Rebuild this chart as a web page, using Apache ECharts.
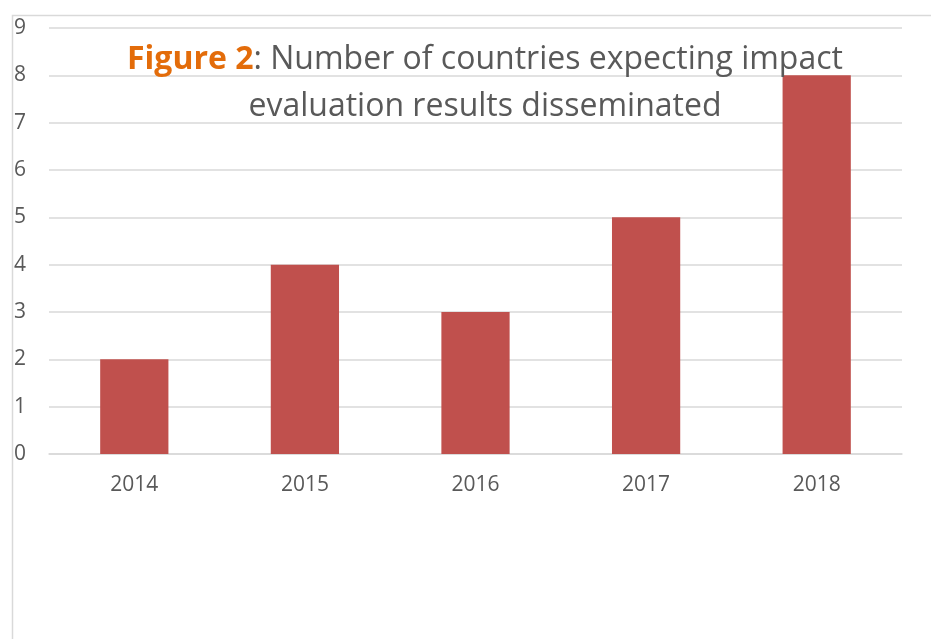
<!DOCTYPE html>
<html><head><meta charset="utf-8">
<script src="https://cdn.jsdelivr.net/npm/echarts@6/dist/echarts.min.js"></script>
<style>html,body{margin:0;padding:0;background:#fff}#c{width:931px;height:639px}</style>
</head><body><div id="c"></div>
<script>
const categories = ['2014', '2015', '2016', '2017', '2018'];
const values = [2, 4, 3, 5, 8];
const yTicks = [0, 9, 1];

const chart = echarts.init(document.getElementById('c'));
chart.setOption({
  animation: false,
  backgroundColor: '#fff',
  graphic: [{
    type: 'rect', left: 10, top: 13, z: -1,
    shape: { x: 0, y: 0, width: 940, height: 650 },
    style: { fill: 'none', stroke: '#d9d9d9', lineWidth: 1.5 }
  }],
  title: {
    left: 480, top: 31, textAlign: 'center',
    text: '{a|Figure 2}{b|: Number of countries expecting impact}\n{b|evaluation results disseminated}',
    textStyle: {
      fontWeight: 'normal',
      lineHeight: 47,
      rich: {
        a: { fontFamily: 'Open Sans', fontSize: 32, fontWeight: 'bold', color: '#E36C0A', lineHeight: 47 },
        b: { fontFamily: 'Open Sans', fontSize: 32, fontWeight: 'normal', color: '#595959', lineHeight: 47 }
      }
    }
  },
  grid: { left: 49, right: 29, top: 28, bottom: 185 },
  xAxis: {
    type: 'category', data: categories,
    axisLine: { lineStyle: { color: '#d9d9d9', width: 1.5 } },
    axisTick: { show: false },
    axisLabel: { color: '#595959', fontFamily: 'Open Sans', fontSize: 21, margin: 21 }
  },
  yAxis: {
    type: 'value', min: yTicks[0], max: yTicks[1], interval: yTicks[2],
    axisLine: { show: false }, axisTick: { show: false },
    splitLine: { lineStyle: { color: '#d9d9d9', width: 1.5 } },
    axisLabel: { color: '#595959', fontFamily: 'Open Sans', fontSize: 21, margin: 23 }
  },
  series: [{
    type: 'bar', data: values, barWidth: '40%',
    itemStyle: { color: '#C0504D' }
  }]
});
</script></body></html>
